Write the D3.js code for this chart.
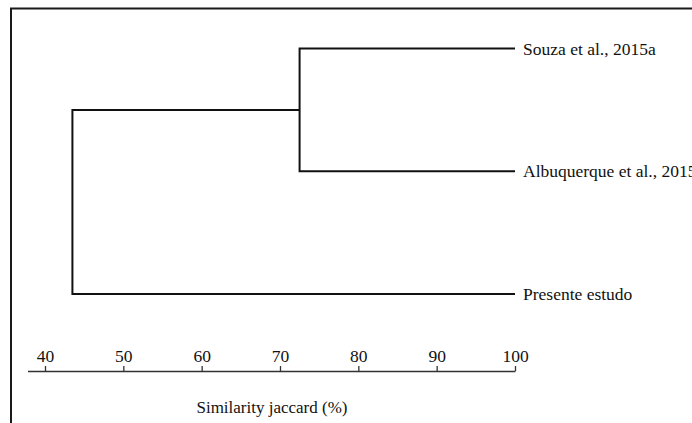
<!DOCTYPE html>
<html>
<head>
<meta charset="utf-8">
<script src="https://cdn.jsdelivr.net/npm/d3@7"></script>
<style>
  html, body { margin: 0; padding: 0; background: #fff; overflow: hidden; }
  svg { display: block; }
  text { font-family: "Liberation Serif", "Times New Roman", serif; fill: #111; }
</style>
</head>
<body>
<svg id="chart" width="692" height="423"></svg>
<script>
// Studies clustered by Jaccard similarity
const leaves = ["Souza et al., 2015a", "Albuquerque et al., 2015", "Presente estudo"];
// merges: [left child, right child, similarity %]
const merges = [
  ["Souza et al., 2015a", "Albuquerque et al., 2015", 72.5],
  ["cluster1", "Presente estudo", 43.5]
];
const mergeNames = ["cluster1", "root"];
const ticks = [40, 50, 60, 70, 80, 90, 100];
const axisTitle = "Similarity jaccard (%)";

const svg = d3.select("#chart");
const serif = "'Liberation Serif', 'Times New Roman', serif";

// outer frame (extends past the right and bottom edges)
svg.append("rect")
  .attr("x", 11).attr("y", 8.5)
  .attr("width", 760).attr("height", 500)
  .attr("fill", "none").attr("stroke", "#1a1a1a").attr("stroke-width", 2);

const x = d3.scaleLinear().domain([40, 100]).range([45, 515]);
const y = d3.scalePoint().domain(leaves).range([48.5, 294]);

// node positions
const pos = {};
leaves.forEach(l => { pos[l] = { x: x(100), y: y(l) }; });

const g = svg.append("g");
merges.forEach((m, i) => {
  const a = pos[m[0]], b = pos[m[1]], xv = x(m[2]);
  const path = d3.path();
  path.moveTo(a.x, a.y);
  path.lineTo(xv, a.y);
  path.lineTo(xv, b.y);
  path.lineTo(b.x, b.y);
  g.append("path").attr("d", path.toString())
    .attr("fill", "none").attr("stroke", "#111").attr("stroke-width", 2)
    .attr("stroke-linejoin", "miter");
  pos[mergeNames[i]] = { x: xv, y: (a.y + b.y) / 2 };
});

// leaf labels
svg.selectAll("text.leaf").data(leaves).enter().append("text")
  .attr("class", "leaf")
  .attr("x", x(100) + 8)
  .attr("y", d => y(d) + 6)
  .style("font-family", serif)
  .style("font-size", "17.5px")
  .text(d => d);

// similarity axis with ticks pointing up
const axis = d3.axisTop(x).tickValues(ticks).tickSize(5).tickPadding(4).tickFormat(d3.format("d"));
const ax = svg.append("g").attr("transform", "translate(0,371)").call(axis);
ax.select(".domain").remove();
ax.selectAll(".tick line").attr("stroke", "#333").attr("stroke-width", 1.3);
ax.selectAll(".tick text")
  .style("font-family", serif)
  .style("font-size", "17.5px").attr("fill", "#111");
ax.append("line")
  .attr("x1", 28).attr("x2", x(100) + 0.5)
  .attr("y1", 0.5).attr("y2", 0.5)
  .attr("stroke", "#333").attr("stroke-width", 1.3);

svg.append("text")
  .attr("x", 272).attr("y", 413)
  .attr("text-anchor", "middle")
  .style("font-family", serif)
  .style("font-size", "17px")
  .text(axisTitle);
</script>
</body>
</html>
